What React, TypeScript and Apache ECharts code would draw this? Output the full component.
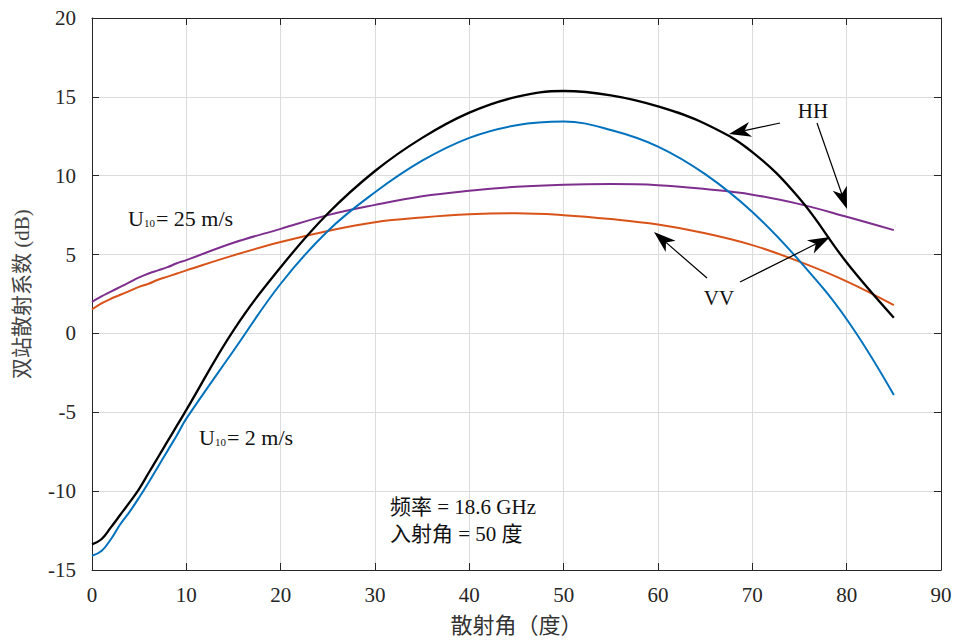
import React, { useEffect, useRef } from "react";
import * as echarts from "echarts";

// scattering angle (deg)
const ANGLES = [0, 1, 2, 3, 4, 5, 6, 7, 8, 9, 10, 15, 20, 25, 30, 35, 40, 45, 50, 55, 60, 65, 70, 75, 80, 85];
// U10 = 2 m/s
const HH_2 = [-13.37, -13.05, -12.3, -11.5, -10.7, -9.85, -8.85, -7.85, -6.85, -5.85, -4.85, 0.2, 4.2, 7.6, 10.3, 12.4, 14.0, 15.0, 15.37, 15.1, 14.4, 13.3, 11.5, 8.55, 4.5, 1.0];
const VV_2 = [-14.1, -13.8, -13.05, -12.1, -11.3, -10.4, -9.45, -8.45, -7.45, -6.45, -5.4, -1.1, 3.15, 6.5, 8.95, 10.95, 12.4, 13.2, 13.43, 12.9, 11.85, 10.1, 7.7, 4.6, 0.9, -3.9];
// U10 = 25 m/s
const HH_25 = [2.0, 2.35, 2.65, 2.95, 3.25, 3.55, 3.8, 4.0, 4.2, 4.45, 4.65, 5.75, 6.63, 7.5, 8.15, 8.7, 9.05, 9.3, 9.43, 9.47, 9.4, 9.15, 8.8, 8.2, 7.4, 6.55];
const VV_25 = [1.52, 1.9, 2.2, 2.45, 2.7, 2.95, 3.15, 3.4, 3.6, 3.8, 4.0, 4.95, 5.8, 6.5, 7.05, 7.35, 7.55, 7.62, 7.5, 7.25, 6.9, 6.35, 5.6, 4.55, 3.3, 1.79];

const X_TICKS = { min: 0, max: 90, interval: 10 };
const Y_TICKS = { min: -15, max: 20, interval: 5 };

const SERIF = "'Liberation Serif', 'Times New Roman', 'Noto Sans CJK SC', serif";
const AX = "#262626";

function zip(ys: number[]) {
  return ANGLES.map((x, i) => [x, ys[i]]);
}

function arrow(from: number[], tip: number[]) {
  const dx = tip[0] - from[0];
  const dy = tip[1] - from[1];
  const len = Math.hypot(dx, dy);
  const ux = dx / len, uy = dy / len;
  const px = -uy, py = ux;
  const L = 22, W = 15, N = 0.72;
  const back = [tip[0] - ux * L, tip[1] - uy * L];
  const notch = [tip[0] - ux * L * N, tip[1] - uy * L * N];
  return [
    {
      type: "line",
      shape: { x1: from[0], y1: from[1], x2: notch[0], y2: notch[1] },
      style: { stroke: "#000", lineWidth: 1.2 },
      z: 100,
    },
    {
      type: "polygon",
      shape: {
        points: [
          tip,
          [back[0] + px * W / 2, back[1] + py * W / 2],
          notch,
          [back[0] - px * W / 2, back[1] - py * W / 2],
        ],
      },
      style: { fill: "#000" },
      z: 100,
    },
  ];
}

function uText(left: number, cy: number, rest: string) {
  return {
    type: "text",
    x: left,
    y: cy,
    z: 100,
    style: {
      text: "{a|U}{b|10}{a|" + rest + "}",
      verticalAlign: "middle",
      align: "left",
      rich: {
        a: { fontSize: 22, fontFamily: SERIF, fill: "#111" },
        b: { fontSize: 11, fontFamily: SERIF, fill: "#111", padding: [9, 1, 0, 0] },
      },
    },
  };
}

function plainText(x: number, y: number, text: string, align = "left") {
  return {
    type: "text",
    x,
    y,
    z: 100,
    style: { text, fontSize: 21, fontFamily: SERIF, fill: "#111", align, verticalAlign: "middle" },
  };
}

export default function App() {
  const ref = useRef<HTMLDivElement>(null);
  useEffect(() => {
    if (!ref.current) return;
    const chart = echarts.init(ref.current, null, { renderer: "svg" });
    const baseAxis = {
      type: "value",
      axisLine: { show: true, onZero: false, lineStyle: { color: AX, width: 1 } },
      axisTick: { show: true, inside: true, length: 7, lineStyle: { color: AX } },
    };
    const lineSeries = (name: string, ys: number[], color: string, width: number, z: number) => ({
      name,
      type: "line",
      data: zip(ys),
      showSymbol: false,
      smooth: 0.4,
      lineStyle: { color, width },
      z,
    });
    chart.setOption({
      animation: false,
      backgroundColor: "#fff",
      grid: { left: 92, top: 18, right: 15, bottom: 72, containLabel: false },
      xAxis: [
        {
          ...baseAxis,
          ...X_TICKS,
          position: "bottom",
          name: "散射角（度）",
          nameLocation: "middle",
          nameGap: 44,
          nameTextStyle: { fontSize: 22, fontFamily: SERIF, color: "#333" },
          axisLabel: { fontSize: 21, fontFamily: SERIF, color: AX, margin: 14 },
          splitLine: { show: true, lineStyle: { color: "#dcdcdc", width: 1 } },
        },
        {
          ...baseAxis,
          ...X_TICKS,
          position: "top",
          axisLabel: { show: false },
          splitLine: { show: false },
        },
      ],
      yAxis: [
        {
          ...baseAxis,
          ...Y_TICKS,
          position: "left",
          name: "双站散射系数 (dB)",
          nameLocation: "middle",
          nameGap: 60,
          nameTextStyle: { fontSize: 21, fontFamily: SERIF, color: "#444" },
          axisLabel: { fontSize: 21, fontFamily: SERIF, color: AX, margin: 16 },
          splitLine: { show: true, lineStyle: { color: "#dcdcdc", width: 1 } },
        },
        {
          ...baseAxis,
          ...Y_TICKS,
          position: "right",
          axisLabel: { show: false },
          splitLine: { show: false },
        },
      ],
      series: [
        lineSeries("HH 2", HH_2, "#000000", 2.3, 5),
        lineSeries("VV 2", VV_2, "#0072BD", 2, 4),
        lineSeries("HH 25", HH_25, "#7E2F8E", 2, 3),
        lineSeries("VV 25", VV_25, "#D95319", 2, 3),
      ],
      graphic: [
        uText(128, 218, "= 25 m/s"),
        uText(199, 437, "= 2 m/s"),
        plainText(390, 507, "频率 = 18.6 GHz"),
        plainText(390, 534, "入射角 = 50 度"),
        plainText(813, 111, "HH", "center"),
        plainText(719, 298, "VV", "center"),
        ...arrow([780, 123], [729, 134]),
        ...arrow([817, 123], [847, 209]),
        ...arrow([707, 278], [654, 232]),
        ...arrow([740, 282], [830, 237]),
      ],
    });
    return () => chart.dispose();
  }, []);
  return (
    <div
      ref={ref}
      style={{ position: "fixed", left: 0, top: 0, width: 956, height: 642, background: "#fff" }}
    />
  );
}
